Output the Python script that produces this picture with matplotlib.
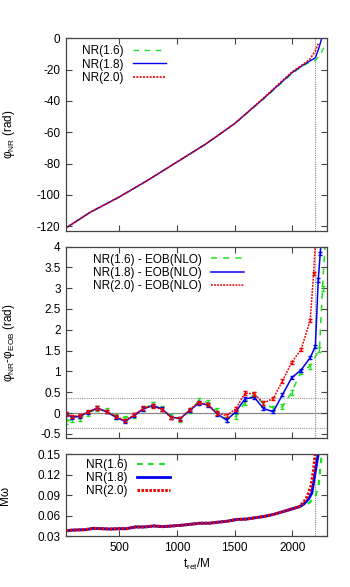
import numpy as np
import matplotlib
matplotlib.use("Agg")
import matplotlib.pyplot as plt

plt.rcParams['font.family'] = ['Liberation Sans', 'DejaVu Sans']
plt.rcParams['mathtext.fontset'] = 'custom'
plt.rcParams['mathtext.rm'] = 'Liberation Sans'
plt.rcParams['mathtext.it'] = 'Liberation Sans:italic'
plt.rcParams['mathtext.bf'] = 'Liberation Sans:bold'
plt.rcParams['axes.unicode_minus'] = False

# ---------------- data ----------------
labels_nr = ["NR(1.6)", "NR(1.8)", "NR(2.0)"]
labels_diff = ["NR(1.6) - EOB(NLO)", "NR(1.8) - EOB(NLO)", "NR(2.0) - EOB(NLO)"]

# top panel: phi_NR
t_phi_16 = [40, 250, 500, 750, 1000, 1250, 1500, 1750, 1900, 2000, 2100, 2150, 2200, 2240, 2285, 2295]
phi_16 = [-121, -111, -101.3, -90.5, -79, -67.5, -54.5, -38.8, -29, -22.4, -17.2, -15.5, -14.2, -10.7, -4.3, -3]
t_phi_18 = [40, 250, 500, 750, 1000, 1250, 1500, 1750, 1900, 2000, 2100, 2150, 2200, 2230, 2255]
phi_18 = [-121, -111, -101.3, -90.5, -79, -67.5, -54.5, -38.5, -28.5, -21.8, -16.8, -14.6, -12.5, -6.4, 0]
t_phi_20 = [40, 250, 500, 750, 1000, 1250, 1500, 1750, 1900, 2000, 2100, 2150, 2200, 2225]
phi_20 = [-121, -111, -101.3, -90.5, -79, -67.5, -54.5, -38.2, -28.0, -21.3, -16.3, -13.6, -8.0, -3.5]

# middle panel: phi_NR - phi_EOB
t_d_16 = [40, 90, 160, 230, 310, 390, 470, 550, 630, 710, 790, 870, 950, 1030, 1110, 1190,
          1270, 1350, 1430, 1510, 1590, 1670, 1750, 1835, 1915, 1995, 2075, 2155, 2235, 2262, 2285]
d_16 = [-0.2, -0.16, -0.13, 0.0, 0.1, 0.05, -0.08, -0.12, -0.05, 0.12, 0.2, 0.1, -0.08, -0.15, 0.05, 0.3,
        0.25, 0.05, -0.15, -0.08, 0.26, 0.44, 0.22, 0.12, 0.15, 0.5, 1.0, 1.13, 1.52, 3.0, 4.1]
t_d_18 = [40, 90, 160, 230, 310, 390, 470, 550, 630, 710, 790, 870, 950, 1030, 1110, 1190,
          1270, 1350, 1430, 1510, 1590, 1670, 1750, 1835, 1915, 1995, 2075, 2155, 2200, 2225, 2242, 2252]
d_18 = [-0.02, -0.1, -0.08, 0.02, 0.12, 0.03, -0.1, -0.2, -0.06, 0.1, 0.18, 0.1, -0.1, -0.13, 0.06, 0.24,
        0.19, -0.02, -0.17, 0.03, 0.34, 0.38, 0.11, 0.03, 0.44, 0.85, 1.03, 1.33, 1.6, 3.2, 3.83, 4.2]
t_d_20 = [40, 90, 160, 230, 310, 390, 470, 550, 630, 710, 790, 870, 950, 1030, 1110, 1190,
          1270, 1350, 1430, 1510, 1590, 1670, 1750, 1835, 1915, 1995, 2075, 2155, 2185, 2200]
d_20 = [-0.02, -0.08, -0.06, 0.03, 0.12, 0.04, -0.08, -0.18, -0.04, 0.12, 0.17, 0.08, -0.1, -0.14, 0.08, 0.26,
        0.2, 0.0, -0.06, 0.1, 0.48, 0.46, 0.24, 0.35, 0.77, 1.22, 1.52, 2.22, 3.35, 4.1]
err_16, err_18, err_20 = 0.06, 0.04, 0.04

# bottom panel: M omega
t_om_common = [40, 100, 200, 280, 350, 420, 500, 560, 640, 720, 800, 880, 960, 1040, 1120, 1200,
               1280, 1360, 1440, 1520, 1600, 1680, 1760, 1840, 1920, 2000, 2060]
om_common = [0.038, 0.039, 0.0395, 0.0415, 0.041, 0.0405, 0.041, 0.041, 0.0435, 0.0435, 0.045, 0.044,
             0.045, 0.046, 0.0475, 0.049, 0.049, 0.0505, 0.052, 0.0545, 0.055, 0.057, 0.059, 0.062,
             0.066, 0.070, 0.073]
t_om_16_tail = [2100, 2150, 2200, 2230, 2258]
om_16_tail = [0.075, 0.079, 0.088, 0.107, 0.155]
t_om_18_tail = [2100, 2140, 2170, 2200, 2215, 2230]
om_18_tail = [0.077, 0.084, 0.093, 0.125, 0.14, 0.155]
t_om_20_tail = [2100, 2130, 2160, 2185, 2200]
om_20_tail = [0.080, 0.088, 0.102, 0.127, 0.153]

t_merger = 2200
band = 0.35

# ---------------- styles ----------------
c16, c18, c20 = '#22dd22', '#0000ee', '#ee0000'
ls16 = (0, (4, 4))
ls18 = '-'
ls20 = (0, (1.2, 0.8))
spine_c = '#444444'

fig = plt.figure(figsize=(3.5, 5.87), dpi=100)
L, W = 0.189, 0.745
ax1 = fig.add_axes([L, 0.6065, W, 0.3283])
ax2 = fig.add_axes([L, 0.2538, W, 0.3262])
ax3 = fig.add_axes([L, 0.0865, W, 0.1400])

def style(ax):
    for s in ax.spines.values():
        s.set_color(spine_c)
        s.set_linewidth(0.9)
    ax.tick_params(direction='in', length=4, width=0.8, color=spine_c,
                   top=True, right=True, labelsize=8.5, pad=4)
    ax.set_xlim(40, 2300)
    ax.set_xticks([500, 1000, 1500, 2000])
    ax.axvline(t_merger, color='#888888', lw=0.8, ls=(0, (1, 1)), zorder=1)

# top
style(ax1)
ax1.plot(t_phi_16, phi_16, color=c16, ls=ls16, lw=1.0, label=labels_nr[0])
ax1.plot(t_phi_18, phi_18, color=c18, ls=ls18, lw=1.0, label=labels_nr[1])
ax1.plot(t_phi_20, phi_20, color=c20, ls=ls20, lw=1.2, label=labels_nr[2])
ax1.set_ylim(-123, 0)
ax1.set_yticks([0, -20, -40, -60, -80, -100, -120])
ax1.tick_params(labelbottom=False)
ax1.set_ylabel(r'$\mathrm{φ}_{\mathrm{NR}}$ (rad)', fontsize=8.5)
ax1.yaxis.set_label_coords(-0.19, 0.5)
ax1.legend(loc='upper left', bbox_to_anchor=(0.035, 1.0), frameon=False, markerfirst=False,
           fontsize=8.5, handlelength=2.8, labelspacing=0.1, borderaxespad=0.2, handletextpad=0.8)

# middle
style(ax2)
ax2.axhline(0, color='#888888', lw=0.9, zorder=1)
ax2.axhline(band, color='#999999', lw=0.8, ls=(0, (1, 1)), zorder=1)
ax2.axhline(-band, color='#999999', lw=0.8, ls=(0, (1, 1)), zorder=1)
for t, d, e, c, ls, lab in [(t_d_16, d_16, err_16, c16, ls16, labels_diff[0]),
                            (t_d_18, d_18, err_18, c18, ls18, labels_diff[1]),
                            (t_d_20, d_20, err_20, c20, ls20, labels_diff[2])]:
    ax2.plot(t, d, color=c, ls=ls, lw=1.1, label=lab)
    ax2.errorbar(t, d, yerr=e, fmt='none', ecolor=c, elinewidth=1.0, capsize=1.5, capthick=1.0)
ax2.set_ylim(-0.6, 4)
ax2.set_yticks([-0.5, 0, 0.5, 1, 1.5, 2, 2.5, 3, 3.5, 4])
ax2.set_yticklabels(['-0.5', '0', '0.5', '1', '1.5', '2', '2.5', '3', '3.5', '4'])
ax2.tick_params(labelbottom=False)
ax2.set_ylabel(r'$\mathrm{φ}_{\mathrm{NR}}$-$\mathrm{φ}_{\mathrm{EOB}}$ (rad)', fontsize=8.5)
ax2.yaxis.set_label_coords(-0.19, 0.5)
ax2.legend(loc='upper left', bbox_to_anchor=(0.075, 1.0), frameon=False, markerfirst=False,
           fontsize=8.5, handlelength=2.8, labelspacing=0.1, borderaxespad=0.2, handletextpad=0.8)

# bottom
style(ax3)
ax3.plot(t_om_common + t_om_16_tail, om_common + om_16_tail, color=c16, ls=(0, (2.5, 2.5)), lw=1.6, label=labels_nr[0])
ax3.plot(t_om_common + t_om_18_tail, om_common + om_18_tail, color=c18, ls=ls18, lw=2.0, label=labels_nr[1])
ax3.plot(t_om_common + t_om_20_tail, om_common + om_20_tail, color=c20, ls=(0, (0.8, 0.5)), lw=2.2, label=labels_nr[2])
ax3.set_ylim(0.03, 0.15)
ax3.set_yticks([0.03, 0.06, 0.09, 0.12, 0.15])
ax3.set_yticklabels(['0.03', '0.06', '0.09', '0.12', '0.15'])
ax3.set_ylabel('Mω', fontsize=8.5)
ax3.yaxis.set_label_coords(-0.21, 0.5)
ax3.set_xlabel(r'$\mathrm{t}_{\mathrm{ret}}$/M', fontsize=8.5, labelpad=2)
ax3.legend(loc='upper left', bbox_to_anchor=(0.05, 1.02), frameon=False, markerfirst=False,
           fontsize=8.5, handlelength=2.8, labelspacing=0.05, borderaxespad=0.2, handletextpad=0.8)

fig.savefig('out.png', dpi=100)
